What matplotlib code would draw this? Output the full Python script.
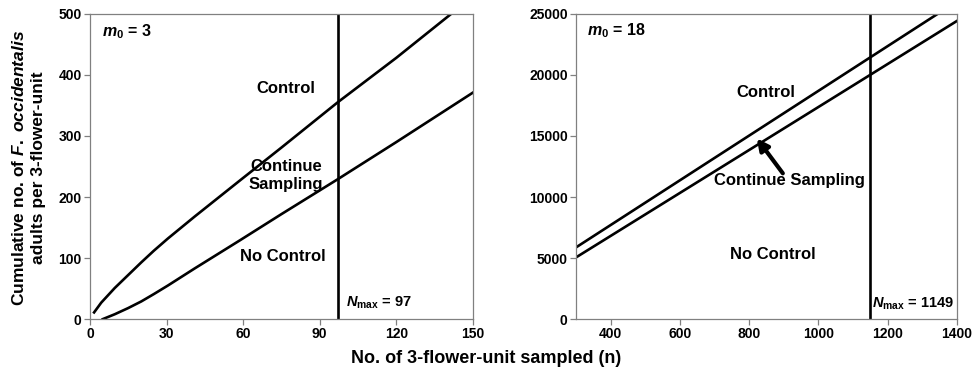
import matplotlib
matplotlib.use("Agg")
import matplotlib.pyplot as plt
import numpy as np

plt.rcParams['font.family'] = ['Liberation Sans', 'DejaVu Sans']
plt.rcParams['font.weight'] = 'bold'
plt.rcParams['mathtext.fontset'] = 'custom'
plt.rcParams['mathtext.rm'] = 'Liberation Sans:bold'
plt.rcParams['mathtext.it'] = 'Liberation Sans:bold:italic'
plt.rcParams['mathtext.bf'] = 'Liberation Sans:bold'

# Left panel (m0 = 3)
left_upper_n = [1.6, 4.4, 9.7, 14.9, 20.1, 25, 30.5, 41, 58.7, 75, 97, 120, 141.5]
left_upper_y = [11, 27, 51, 72, 93, 112, 132, 168, 227, 281, 355, 428, 500]
left_lower_n = [5, 9.7, 14.9, 20.1, 25, 30.5, 41, 58.7, 75, 97, 120, 150]
left_lower_y = [0, 8, 18, 29, 41, 55, 83, 129, 172, 229, 290, 371]
left_nmax = 97

# Right panel (m0 = 18)
right_upper_n = [300, 600, 900, 1149, 1344]
right_upper_y = [5874, 11370, 16866, 21430, 25000]
right_lower_n = [300, 600, 900, 1149, 1400]
right_lower_y = [5055, 10335, 15615, 20000, 24426]
right_nmax = 1149

left_xticks = [0, 30, 60, 90, 120, 150]
left_yticks = [0, 100, 200, 300, 400, 500]
right_xticks = [400, 600, 800, 1000, 1200, 1400]
right_yticks = [0, 5000, 10000, 15000, 20000, 25000]

fig = plt.figure(figsize=(9.73, 3.75), dpi=100)
ax1 = fig.add_axes([0.0925, 0.149, 0.3935, 0.814])
ax2 = fig.add_axes([0.592, 0.149, 0.3916, 0.814])

lw = 1.9
spine_c = '#808080'

for ax in (ax1, ax2):
    for s in ax.spines.values():
        s.set_color(spine_c)
        s.set_linewidth(0.9)
    ax.tick_params(direction='out', length=4, width=0.9, color=spine_c,
                   labelsize=10, pad=2)

# Left
ax1.plot(left_upper_n, left_upper_y, color='black', lw=lw)
ax1.plot(left_lower_n, left_lower_y, color='black', lw=lw)
ax1.axvline(left_nmax, color='black', lw=lw)
ax1.set_xlim(0, 150)
ax1.set_ylim(0, 500)
ax1.set_xticks(left_xticks)
ax1.set_yticks(left_yticks)
ax1.text(76.7, 378, 'Control', ha='center', va='center', fontsize=12, fontweight='bold')
ax1.text(76.7, 236, 'Continue\nSampling', ha='center', va='center', fontsize=12,
         fontweight='bold', linespacing=1.25)
ax1.text(75.6, 102, 'No Control', ha='center', va='center', fontsize=12, fontweight='bold')
ax1.text(4.6, 471, r'$m_0$ = 3', ha='left', va='center', fontsize=11.5, fontweight='bold')
ax1.text(100.4, 26, r'$N_{\mathrm{max}}$ = 97', ha='left', va='center', fontsize=10.5,
         fontweight='bold')

# Right
ax2.plot(right_upper_n, right_upper_y, color='black', lw=lw)
ax2.plot(right_lower_n, right_lower_y, color='black', lw=lw)
ax2.axvline(right_nmax, color='black', lw=lw)
ax2.set_xlim(300, 1400)
ax2.set_ylim(0, 25000)
ax2.set_xticks(right_xticks)
ax2.set_yticks(right_yticks)
ax2.text(849, 18552, 'Control', ha='center', va='center', fontsize=12, fontweight='bold')
ax2.text(917, 11394, 'Continue Sampling', ha='center', va='center', fontsize=12,
         fontweight='bold')
ax2.text(869, 5328, 'No Control', ha='center', va='center', fontsize=12, fontweight='bold')
ax2.text(331, 23634, r'$m_0$ = 18', ha='left', va='center', fontsize=11.5, fontweight='bold')
ax2.text(1155, 1284, r'$N_{\mathrm{max}}$ = 1149', ha='left', va='center', fontsize=10.5,
         fontweight='bold')
ax2.annotate('', xy=(822, 14800), xytext=(897, 11943),
             arrowprops=dict(arrowstyle='-|>', color='black', lw=3,
                             mutation_scale=17, shrinkA=0, shrinkB=0))

fig.text(0.5, 0.045, 'No. of 3-flower-unit sampled (n)', ha='center', va='center',
         fontsize=13, fontweight='bold')
fig.text(0.029, 0.552, 'Cumulative no. of $F.\\ occidentalis$\nadults per 3-flower-unit',
         ha='center', va='center', rotation=90, fontsize=12.5, fontweight='bold',
         linespacing=1.3)

fig.savefig('out.png', dpi=100)
